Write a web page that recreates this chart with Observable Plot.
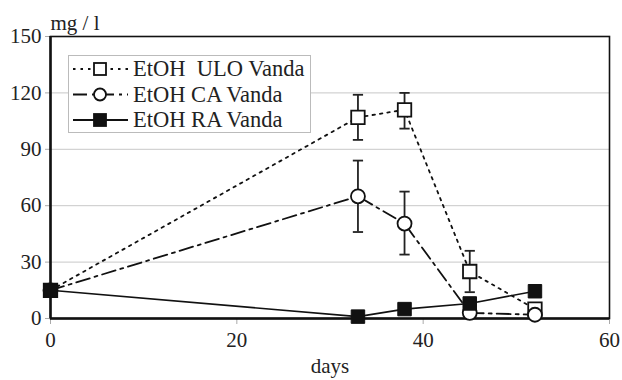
<!DOCTYPE html>
<html><head><meta charset="utf-8">
<script src="https://cdn.jsdelivr.net/npm/d3@7"></script>
<script src="https://cdn.jsdelivr.net/npm/@observablehq/plot@0.6"></script>
<style>
body{margin:0;background:#fff;}
#wrap{position:relative;width:622px;height:380px;font-family:'Liberation Serif',serif;}
#legend{position:absolute;left:0;top:0;}
.lgtext{position:absolute;left:133px;font-family:'Liberation Serif',serif;font-size:22.5px;line-height:22px;color:#222;white-space:pre;}
</style></head><body>
<div id="wrap"></div>
<script>
const days = [0, 33, 38, 45, 52];
const uloMean = [15, 107, 111, 25, 5];
const uloLow  = [null, 95, 101, 14, null];
const uloHigh = [null, 119, 120, 36, null];
const caMean = [15, 65, 50.5, 3, 2];
const caLow  = [null, 46, 34, null, null];
const caHigh = [null, 84, 67.5, null, null];
const raMean = [15, 1, 5, 8, 14.5];
const seriesNames = ["EtOH  ULO Vanda", "EtOH CA Vanda", "EtOH RA Vanda"];
const xTicks = [0, 20, 40, 60];
const yTicks = [0, 30, 60, 90, 120, 150];

const mk = (mean, low, high) => days.map((d, i) => ({x: d, y: mean[i], lo: low ? low[i] : null, hi: high ? high[i] : null}));
const ulo = mk(uloMean, uloLow, uloHigh);
const ca = mk(caMean, caLow, caHigh);
const ra = mk(raMean);
const errs = [...ulo, ...ca].filter(d => d.lo != null);

const styles = [
  {dash: "2.5,5", symbol: "square", fill: "white"},
  {dash: "14,5,3,5", symbol: "circle", fill: "white"},
  {dash: null, symbol: "square", fill: "#111"}
];
const FS = 21;
const FONT = "'Liberation Serif', serif";

const chart = Plot.plot({
  width: 622, height: 380,
  marginLeft: 50, marginRight: 13, marginTop: 36, marginBottom: 62,
  style: {fontSize: FS + "px", fontFamily: FONT, color: "#222", background: "white"},
  x: {domain: [0, 60]},
  y: {domain: [0, 150]},
  marks: [
    Plot.gridY(yTicks.slice(1, -1), {stroke: "#c8c8c8", strokeOpacity: 1}),
    Plot.axisX(xTicks, {tickSize: 6, tickPadding: 8, stroke: "#aaa", label: null, fontSize: FS}),
    Plot.axisY(yTicks, {tickSize: 5, tickPadding: 4, stroke: "#aaa", label: null, fontSize: FS}),
    Plot.frame({stroke: "#111", strokeWidth: 1.6}),
    Plot.ruleX([0], {stroke: "#111", strokeWidth: 2.5}),
    Plot.ruleY([0], {stroke: "#111", strokeWidth: 2.5}),
    Plot.ruleX(errs, {x: "x", y1: "lo", y2: "hi", stroke: "#222", strokeWidth: 1.8}),
    Plot.link(errs, {x1: d => d.x - 0.55, x2: d => d.x + 0.55, y1: "hi", y2: "hi", stroke: "#222", strokeWidth: 1.8}),
    Plot.link(errs, {x1: d => d.x - 0.55, x2: d => d.x + 0.55, y1: "lo", y2: "lo", stroke: "#222", strokeWidth: 1.8}),
    Plot.line(ulo, {x: "x", y: "y", stroke: "#111", strokeWidth: 1.8, strokeDasharray: styles[0].dash}),
    Plot.dot(ulo, {x: "x", y: "y", symbol: "square", r: 7.6, fill: "white", stroke: "#111", strokeWidth: 1.8}),
    Plot.line(ca, {x: "x", y: "y", stroke: "#111", strokeWidth: 1.8, strokeDasharray: styles[1].dash}),
    Plot.dot(ca, {x: "x", y: "y", symbol: "circle", r: 7, fill: "white", stroke: "#111", strokeWidth: 1.8}),
    Plot.line(ra, {x: "x", y: "y", stroke: "#111", strokeWidth: 1.6}),
    Plot.dot(ra, {x: "x", y: "y", symbol: "square", r: 7.6, fill: "#111", stroke: "#111", strokeWidth: 1}),
    Plot.text(["mg / l"], {frameAnchor: "top-left", dy: -21, dx: 0, textAnchor: "start", fontSize: FS, fill: "#222"}),
    Plot.text(["days"], {frameAnchor: "bottom", dy: 54, fontSize: FS, fill: "#222"})
  ]
});
const wrap = document.getElementById("wrap");
wrap.appendChild(chart);

// legend: box and samples in SVG, labels as HTML text
const lg = d3.select(wrap).append("svg").attr("id", "legend")
  .attr("width", 622).attr("height", 380).style("pointer-events", "none");
lg.append("rect").attr("x", 68.5).attr("y", 55.5).attr("width", 242).attr("height", 77)
  .attr("fill", "white").attr("stroke", "#bbb").attr("stroke-width", 1);
seriesNames.forEach((name, i) => {
  const y = 69 + i * 25.5;
  const s = styles[i];
  lg.append("line").attr("x1", 73).attr("x2", 128).attr("y1", y).attr("y2", y)
    .attr("stroke", "#111").attr("stroke-width", 1.8).attr("stroke-dasharray", s.dash);
  if (s.symbol === "square") {
    lg.append("rect").attr("x", 94).attr("y", y - 6).attr("width", 12).attr("height", 12)
      .attr("fill", s.fill).attr("stroke", "#111").attr("stroke-width", 1.8);
  } else {
    lg.append("circle").attr("cx", 100).attr("cy", y).attr("r", 6)
      .attr("fill", s.fill).attr("stroke", "#111").attr("stroke-width", 1.8);
  }
  d3.select(wrap).append("div").attr("class", "lgtext")
    .style("top", (y - 11) + "px").text(name);
});
</script>
</body></html>
